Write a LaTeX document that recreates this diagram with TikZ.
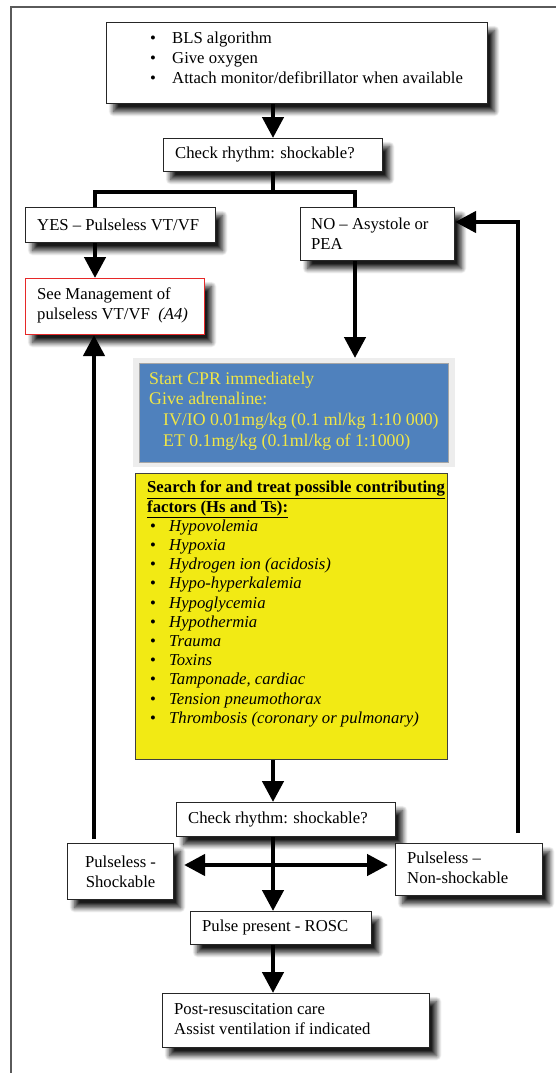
\documentclass[tikz,border=0pt]{standalone}
\usepackage{fontspec}
\setmainfont{Liberation Serif}
\usetikzlibrary{arrows.meta,shadows.blur}
\definecolor{cprblue}{RGB}{79,129,189}
\definecolor{cprtext}{RGB}{240,230,70}
\definecolor{cpryellow}{RGB}{242,234,20}
\definecolor{cprred}{RGB}{230,40,40}
\definecolor{framegray}{RGB}{90,90,90}
\begin{document}
\begin{tikzpicture}[x=1pt,y=-1pt,
  box/.style={draw=black!85, line width=1.1pt, fill=white,
    blur shadow={shadow xshift=7pt, shadow yshift=-8pt, shadow blur radius=5pt, shadow blur steps=10, shadow opacity=90},
    inner sep=0pt, anchor=north west},
  txt/.style={anchor=west, inner sep=0pt, align=left, font=\fontsize{16.7}{20}\selectfont},
  arr/.style={line width=4.5pt, -{Triangle[width=21pt,length=21pt]}},
  ln/.style={line width=4.5pt, line join=miter}]
\useasboundingbox (0,0) rectangle (556,1073);
\draw[line width=1.4pt, framegray] (11,1073) -- (11,7) -- (556,7);

% boxes
\node[box, minimum width=381pt, minimum height=81pt] (top) at (106,22) {};
\node[box, minimum width=219pt, minimum height=33pt] (check1) at (163,138) {};
\node[box, minimum width=190pt, minimum height=35pt] (yes) at (25,207) {};
\node[box, minimum width=154pt, minimum height=53pt] (no) at (300,207) {};
\node[box, draw=cprred, minimum width=179pt, minimum height=56pt] (see) at (25,278) {};
\node[anchor=north west, inner sep=0pt, fill=black!7, minimum width=322pt, minimum height=109pt] (blueframe) at (133,358) {};
\node[anchor=north west, inner sep=0pt, fill=cprblue, draw=black!35, line width=0.6pt, minimum width=309pt, minimum height=99pt] (blue) at (139,363) {};
\node[anchor=north west, inner sep=0pt, fill=cpryellow, draw=black!75, line width=1pt, minimum width=312pt, minimum height=286pt] (yellow) at (135,473) {};
\node[box, minimum width=219pt, minimum height=34pt] (check2) at (176,802) {};
\node[box, minimum width=106pt, minimum height=56pt, align=center, font=\fontsize{16.7}{20}\selectfont] (ps) at (67,843) {Pulseless -\\Shockable};
\node[box, minimum width=147pt, minimum height=52pt] (pns) at (395,843) {};
\node[box, minimum width=181pt, minimum height=33pt] (pulse) at (190,911) {};
\node[box, minimum width=267pt, minimum height=54pt] (post) at (162,993) {};

% texts
\node[txt] (toptxt) at (150,58) {\makebox[22pt][l]{\textbullet}BLS algorithm\\
  \makebox[22pt][l]{\textbullet}Give oxygen\\
  \makebox[22pt][l]{\textbullet}Attach monitor/defibrillator when available};
\node[txt] (check1txt) at (175,154.5) {Check rhythm: shockable?};
\node[txt] (yestxt) at (37,224.5) {YES -- Pulseless VT/VF};
\node[txt] (notxt) at (311,233.5) {NO -- Asystole or\\PEA};
\node[txt] (seetxt) at (37,305) {See Management of\\pulseless VT/VF~~\textit{(A4)}};
\node[txt, text=cprtext, font=\fontsize{17.8}{20.7}\selectfont] (bluetxt) at (149,411) {Start CPR immediately\\
  Give adrenaline:\\
  \hspace*{14pt}IV/IO 0.01mg/kg (0.1 ml/kg 1:10 000)\\
  \hspace*{14pt}ET 0.1mg/kg (0.1ml/kg of 1:1000)};
\node[txt, font=\fontsize{16.7}{19.2}\selectfont] (yellowtxt) at (147,604) {\underline{\textbf{Search for and treat possible contributing}}\\
  \underline{\textbf{factors (Hs and Ts):}}\\
  \makebox[22pt][l]{\hspace*{3pt}\textbullet}\textit{Hypovolemia}\\
  \makebox[22pt][l]{\hspace*{3pt}\textbullet}\textit{Hypoxia}\\
  \makebox[22pt][l]{\hspace*{3pt}\textbullet}\textit{Hydrogen ion (acidosis)}\\
  \makebox[22pt][l]{\hspace*{3pt}\textbullet}\textit{Hypo-hyperkalemia}\\
  \makebox[22pt][l]{\hspace*{3pt}\textbullet}\textit{Hypoglycemia}\\
  \makebox[22pt][l]{\hspace*{3pt}\textbullet}\textit{Hypothermia}\\
  \makebox[22pt][l]{\hspace*{3pt}\textbullet}\textit{Trauma}\\
  \makebox[22pt][l]{\hspace*{3pt}\textbullet}\textit{Toxins}\\
  \makebox[22pt][l]{\hspace*{3pt}\textbullet}\textit{Tamponade, cardiac}\\
  \makebox[22pt][l]{\hspace*{3pt}\textbullet}\textit{Tension pneumothorax}\\
  \makebox[22pt][l]{\hspace*{3pt}\textbullet}\textit{Thrombosis (coronary or pulmonary)}};
\node[txt] (check2txt) at (188,819) {Check rhythm: shockable?};
\node[txt] (pnstxt) at (407,868) {Pulseless --\\Non-shockable};
\node[txt] (pulsetxt) at (202,927.5) {Pulse present - ROSC};
\node[txt] (posttxt) at (174,1019.5) {Post-resuscitation care\\Assist ventilation if indicated};

% helper coordinates
\coordinate (mid) at (273,0);
\coordinate (barL) at (95,192);
\coordinate (barR) at (355,192);
\coordinate (hc) at (273,865);
\coordinate (ll) at (94,839);
\coordinate (rl) at (518,833);
\coordinate (rt) at (518,222);

% connectors
\draw[arr] (mid |- top.south) -- (mid |- check1.north);
\draw[ln] (mid |- check1.south) -- (mid |- barL);
\draw[ln] (barL |- yes.north) -- (barL) -- (barR) -- (barR |- no.north);
\draw[arr] (barL |- yes.south) -- (barL |- see.north);
\draw[arr] (barR |- no.south) -- (barR |- blueframe.north);
\draw[arr] (mid |- yellow.south) -- (mid |- check2.north);
\draw[arr] (mid |- check2.south) -- (mid |- pulse.north);
\draw[arr] (hc) -- ([xshift=10pt]ps.east |- hc);
\draw[arr] (hc) -- ([xshift=-7pt]pns.west |- hc);
\draw[arr] (mid |- pulse.south) -- (mid |- post.north);
\draw[arr] (ll) -- (ll |- see.south);
\draw[arr, line join=miter] (rl) -- (rt) -- (rt -| no.east);
\end{tikzpicture}
\end{document}
